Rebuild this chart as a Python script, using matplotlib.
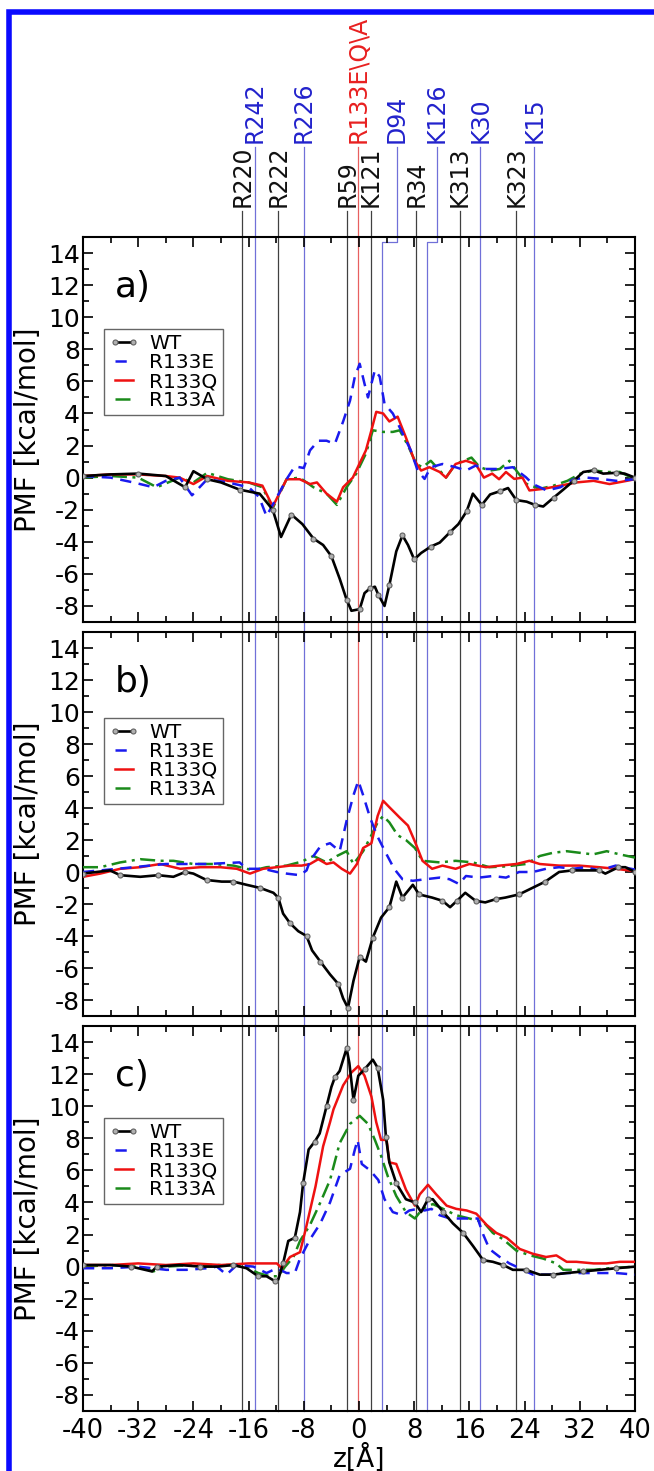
import numpy as np
import matplotlib
matplotlib.use("Agg")
import matplotlib.pyplot as plt
from matplotlib.lines import Line2D
from matplotlib.transforms import blended_transform_factory

plt.rcParams['font.family'] = ['DejaVu Sans']
plt.rcParams['axes.unicode_minus'] = False

# ---------------- data ----------------
series_names = ['WT', 'R133E', 'R133Q', 'R133A']
panel_labels = ['a)', 'b)', 'c)']

# residue markers
res_names = ['R220', 'R242', 'R222', 'R226', 'R59', 'R133E\\Q\\A', 'K121', 'D94',
             'R34', 'K126', 'K313', 'K30', 'K323', 'K15']
res_z = [-16.9, -15.1, -11.7, -8.0, -1.7, -0.1, 1.7, 3.3, 8.3, 9.8, 14.6, 17.6, 22.8, 25.4]
res_label_z = [-16.9, -15.1, -11.7, -8.0, -1.7, -0.1, 1.7, 5.45, 8.3, 11.3, 14.6, 17.6, 22.8, 25.4]
res_group = ['k', 'b', 'k', 'b', 'k', 'r', 'k', 'b', 'k', 'b', 'k', 'b', 'k', 'b']

# ---- panel a ----
a_wt_z = [-40, -36, -32, -28, -25.2, -24, -22, -20, -17.3, -14.4, -12.5, -11.3, -9.8, -8.2, -6.6, -5.2,
          -4.0, -2.8, -1.8, -1.1, 0.1, 0.8, 1.6, 2.3, 2.8, 3.7, 4.4, 5.4, 6.3, 7.1, 8.0, 9.0, 10.4,
          11.7, 13.2, 14.4, 15.6, 16.5, 17.8, 19.0, 20.4, 21.6, 22.8, 24.3, 25.5, 26.7, 28.2, 29.6,
          31.1, 32.5, 34.0, 35.4, 37.3, 38.5, 40]
a_wt_v = [0.1, 0.2, 0.25, 0.1, -0.6, 0.4, -0.1, -0.3, -0.75, -1.0, -2.0, -3.7, -2.3, -2.9, -3.8, -4.2,
          -4.9, -6.3, -7.6, -8.3, -8.2, -7.2, -6.9, -6.8, -7.3, -8.0, -6.7, -4.6, -3.6, -4.2, -5.1, -4.7,
          -4.3, -4.05, -3.4, -2.9, -2.1, -1.0, -1.7, -1.05, -0.85, -0.65, -1.4, -1.5, -1.7, -1.8, -1.25,
          -0.75, -0.2, 0.35, 0.45, 0.25, 0.3, 0.25, 0.0]
a_e_z = [-40, -36, -32.7, -29.8, -28, -26, -24.2, -22, -19, -16, -14.5, -13.4, -11.5, -10.5, -9.3, -8.0,
         -7.1, -5.9, -4.7, -3.5, -2.3, -1.3, -0.6, 0.1, 0.8, 1.3, 1.8, 2.3, 3.0, 3.7, 4.9, 6.1, 7.5,
         8.5, 9.5, 10.4, 12.1, 14.0, 15.5, 16.9, 18.3, 20.3, 22.3, 24.2, 25.2, 27.2, 29.2, 31.1, 33.0,
         35.0, 37.3, 40]
a_e_v = [0.1, 0.0, -0.3, -0.6, -0.2, 0.0, -1.1, -0.1, -0.3, -0.6, -1.2, -2.4, -0.9, -0.1, 0.7, 0.6,
         1.7, 2.3, 2.3, 2.1, 3.5, 4.8, 6.3, 7.1, 5.85, 5.0, 5.85, 6.7, 6.3, 4.6, 4.0, 2.95, 1.7, 0.44,
         -0.08, 0.65, 0.85, 0.65, 0.44, 0.75, 0.54, 0.54, 0.65, 0.02, -0.4, -0.8, -0.6, -0.1, 0.0,
         -0.08, -0.2, -0.1]
a_q_z = [-40, -36, -32, -28, -26, -24, -22, -19, -16, -14, -12.5, -10.5, -8.6, -7.1, -6.1, -4.7, -3.2,
         -2.3, -0.9, 1.0, 1.8, 2.5, 3.5, 4.4, 5.6, 6.8, 8.0, 9.0, 10.2, 11.7, 12.6, 14.0, 15.5, 16.9,
         18.1, 19.3, 20.3, 21.3, 22.5, 23.7, 24.7, 26.7, 29.2, 31.5, 34.0, 36.3, 38.2, 40]
a_q_v = [0.1, 0.2, 0.2, 0.1, 0.0, -0.4, 0.1, -0.2, -0.3, -0.5, -1.8, -0.1, -0.1, -0.4, -0.3, -1.0,
         -1.5, -0.6, 0.0, 1.7, 2.95, 4.1, 4.0, 3.5, 3.8, 2.5, 1.1, 0.44, 0.65, 0.35, 0.0, 0.85, 1.05,
         0.85, 0.0, 0.25, -0.1, 0.35, -0.08, 0.0, -0.8, -0.7, -0.5, -0.3, -0.2, -0.4, -0.25, -0.1]
a_a_z = [-40, -36, -32, -29.3, -26, -24, -22, -19, -16, -14, -12.5, -10.5, -8.6, -6.6, -4.7, -3.2, -1.8,
         -0.4, 1.0, 2.0, 3.5, 4.9, 5.9, 7.1, 8.3, 9.2, 10.4, 11.7, 12.6, 14.0, 16.3, 17.5, 19.0, 20.4,
         21.8, 22.8, 24.3, 26.2, 28.2, 30.2, 32.1, 34.0, 35.9, 37.8, 40]
a_a_v = [0.0, 0.1, 0.0, -0.6, 0.0, -0.3, 0.3, -0.1, -0.3, -0.6, -1.9, -0.1, 0.0, -0.6, -1.0, -1.7, -0.6,
         0.25, 1.5, 2.95, 2.85, 2.85, 2.95, 2.0, 0.85, 0.65, 1.05, 0.44, 0.0, 0.85, 1.25, 0.65, 0.44,
         0.54, 1.05, 0.44, -0.4, -0.7, -0.5, -0.2, 0.25, 0.45, 0.35, 0.35, -0.1]

# ---- panel b ----
b_wt_z = [-40, -36.1, -34.6, -31.7, -29.1, -26.9, -25.2, -24.0, -22.1, -19.9, -18.2, -16.3, -14.3, -12.4,
          -11.7, -11.0, -10.0, -8.8, -7.6, -6.8, -5.6, -4.2, -3.0, -2.3, -1.6, -0.8, 0.1, 1.0, 2.0, 3.2,
          4.4, 5.4, 6.3, 7.8, 8.7, 10.6, 12.1, 13.2, 14.2, 15.4, 16.9, 18.3, 19.8, 21.2, 23.2, 25.1,
          27.0, 29.0, 30.9, 32.8, 34.8, 35.7, 37.6, 38.6, 40]
b_wt_v = [-0.1, 0.1, -0.2, -0.3, -0.2, -0.3, 0.0, -0.1, -0.5, -0.6, -0.6, -0.8, -1.0, -1.3, -1.6, -2.6,
          -3.2, -3.7, -4.0, -4.9, -5.6, -6.4, -7.0, -7.9, -8.5, -6.8, -5.3, -5.6, -4.1, -2.85, -2.2, -0.6,
          -1.6, -0.8, -1.4, -1.6, -1.8, -2.2, -1.8, -1.3, -1.8, -1.9, -1.7, -1.6, -1.4, -1.0, -0.6, 0.0,
          0.1, 0.1, 0.1, -0.1, 0.3, 0.3, 0.0]
b_e_z = [-40, -35, -28, -22, -17.3, -16.3, -13.9, -11.9, -10.5, -8.55, -7.6, -7.1, -5.6, -4.2, -2.8,
         -1.8, -0.8, -0.1, 0.6, 1.6, 2.7, 4.0, 5.1, 6.3, 7.8, 9.7, 11.7, 13.1, 14.5, 15.5, 17.4, 19.4,
         21.3, 23.2, 25.2, 27.1, 29.0, 31.0, 32.9, 34.8, 37.2, 40]
b_e_v = [0.0, 0.2, 0.5, 0.5, 0.6, 0.2, 0.2, 0.0, -0.1, -0.2, 0.1, 0.7, 1.6, 1.8, 1.3, 3.2, 4.8, 5.7, 4.8,
         3.4, 2.2, 1.1, 0.2, -0.45, -0.55, -0.45, -0.35, -0.45, -0.75, -0.25, -0.35, -0.25, -0.35, 0.0,
         0.0, 0.2, 0.3, 0.2, 0.3, 0.1, 0.4, 0.15]
b_q_z = [-40, -37.5, -34.6, -31.7, -28.8, -25.9, -23.0, -20.1, -17.7, -15.8, -13.9, -11.9, -10.0, -8.3,
         -7.1, -5.9, -4.7, -3.7, -2.5, -1.3, -0.3, 0.6, 1.8, 2.7, 3.5, 4.4, 5.9, 7.1, 8.1, 9.2, 10.6,
         12.1, 14.0, 16.0, 18.4, 20.4, 22.8, 24.7, 26.2, 29.0, 31.9, 34.8, 37.2, 40]
b_q_v = [-0.3, -0.1, 0.2, 0.3, 0.5, 0.2, 0.3, 0.3, 0.2, -0.1, 0.2, 0.3, 0.4, 0.4, 0.5, 0.8, 0.5, 0.6,
         0.2, -0.1, 0.5, 1.5, 1.8, 3.5, 4.45, 4.05, 3.4, 2.9, 1.9, 0.7, 0.2, 0.4, 0.2, 0.5, 0.3, 0.4,
         0.5, 0.7, 0.5, 0.4, 0.4, 0.3, 0.2, 0.05]
b_a_z = [-40, -37.5, -34.6, -31.7, -28.8, -26.9, -24.0, -21.1, -18.2, -15.3, -13.4, -10.5, -8.3, -6.6,
         -4.7, -3.2, -1.8, -0.8, 0.6, 1.8, 2.7, 3.5, 4.4, 5.6, 6.8, 8.1, 9.2, 11.7, 14, 16.5, 18.9,
         21.3, 24.2, 26.2, 28.1, 30.1, 32.0, 33.9, 35.9, 37.8, 40]
b_a_v = [0.3, 0.3, 0.6, 0.8, 0.7, 0.7, 0.5, 0.5, 0.4, 0.1, 0.3, 0.4, 0.65, 1.0, 0.6, 1.0, 1.3, 0.5, 1.3,
         2.3, 3.1, 3.5, 3.1, 2.3, 2.0, 1.5, 0.7, 0.6, 0.7, 0.6, 0.3, 0.35, 0.5, 1.0, 1.2, 1.3, 1.2, 1.1,
         1.3, 1.1, 0.9]

# ---- panel c ----
c_wt_z = [-40, -36, -33, -30.0, -29.3, -26, -23.0, -20.5, -18.2, -16.3, -14.6, -13.4, -12.2, -11.7,
          -11.0, -10.25, -9.3, -8.55, -8.1, -7.3, -6.4, -5.7, -4.7, -4.0, -3.5, -2.8, -1.8, -1.4, -0.8,
          -0.1, 0.8, 2.0, 2.7, 3.5, 3.9, 4.4, 5.4, 6.8, 8.1, 9.0, 10.0, 10.7, 12.2, 13.6, 15.1, 16.5,
          18.0, 19.4, 20.9, 22.3, 24.2, 26.2, 28.1, 30.1, 32.5, 34.9, 37.3, 40]
c_wt_v = [0.1, 0.1, 0.0, -0.3, 0.0, 0.1, 0.0, 0.0, 0.1, -0.1, -0.6, -0.6, -0.9, -0.8, 0.2, 1.6, 1.8,
          3.4, 5.2, 7.3, 7.8, 8.3, 10.0, 11.2, 11.8, 12.2, 13.6, 12.7, 10.4, 11.9, 12.3, 12.9, 12.4,
          10.4, 8.1, 6.5, 5.2, 4.2, 4.0, 3.4, 4.2, 4.2, 3.4, 2.7, 2.1, 1.3, 0.4, 0.3, 0.1, -0.2, -0.2,
          -0.5, -0.5, -0.4, -0.3, -0.2, -0.1, 0.0]
c_e_z = [-40, -36, -32, -27.9, -25.0, -22, -20.6, -19.2, -17.7, -15.3, -13.4, -11.9, -10.5, -9.3, -8.55,
         -7.1, -5.6, -4.2, -2.8, -1.3, -0.6, -0.2, 0.4, 1.6, 2.8, 3.7, 4.9, 6.3, 7.3, 8.5, 9.5, 10.5,
         11.7, 13.2, 14.6, 16.0, 17.2, 18.0, 18.9, 20.4, 21.8, 23.3, 25.2, 27.6, 30.1, 32.5, 34.9, 37.3, 40]
c_e_v = [-0.1, -0.1, 0.0, -0.2, -0.2, -0.1, 0.0, -0.5, 0.1, 0.0, -0.4, -0.1, -0.4, -0.4, 0.5, 1.7, 2.7,
         4.0, 5.7, 6.1, 7.3, 7.9, 6.4, 6.0, 5.4, 4.2, 3.4, 3.2, 3.5, 3.6, 3.5, 3.6, 3.2, 3.0, 3.0, 3.0,
         3.0, 2.0, 1.1, 0.6, 0.2, -0.1, -0.5, -0.5, -0.4, -0.4, -0.4, -0.4, -0.5]
c_q_z = [-40, -36, -32, -28, -24, -20, -16, -14.3, -11.9, -11.2, -10.0, -8.55, -7.8, -7.1, -6.3, -5.2,
         -4.2, -3.7, -2.3, -1.1, -0.1, 0.8, 1.8, 2.5, 3.2, 4.0, 4.4, 5.4, 6.8, 8.1, 8.8, 10.0, 11.2,
         12.7, 14.1, 15.6, 17.0, 18.5, 19.9, 21.4, 23.3, 25.2, 27.1, 28.6, 30.1, 31.5, 34.0, 35.9, 37.8, 40]
c_q_v = [0.1, 0.1, 0.2, 0.1, 0.2, 0.1, 0.2, 0.2, 0.2, -0.1, 0.6, 0.9, 2.2, 3.5, 5.0, 7.5, 9.0, 9.8,
         11.3, 12.1, 12.5, 11.9, 10.6, 9.0, 7.9, 7.9, 6.5, 6.4, 4.8, 3.8, 4.5, 5.1, 4.5, 3.8, 3.6, 3.5,
         3.3, 2.6, 2.1, 1.8, 1.1, 0.8, 0.6, 0.7, 0.3, 0.3, 0.2, 0.2, 0.3, 0.3]
c_a_z = [-40, -36, -32, -29.8, -28, -24, -20, -18.2, -16, -14.6, -12.9, -11.7, -10.7, -9.5, -8.55, -7.1,
         -5.6, -4.2, -2.8, -1.3, 0.1, 1.3, 2.3, 3.2, 4.2, 5.4, 6.8, 8.1, 9.2, 10.7, 12.2, 14.1, 16.0,
         18.0, 19.4, 20.9, 22.8, 24.8, 26.7, 28.6, 29.6, 31.5, 34.0, 36.3, 40]
c_a_v = [0.0, 0.1, 0.0, -0.3, 0.0, 0.1, 0.1, 0.1, -0.1, -0.4, -0.6, -0.6, 0.0, 0.6, 1.6, 2.6, 4.0, 5.4,
         7.7, 8.9, 9.4, 8.9, 7.9, 6.9, 5.6, 4.4, 3.4, 3.0, 3.6, 3.9, 3.6, 3.2, 3.0, 2.8, 2.1, 1.7, 1.0,
         0.7, 0.5, 0.2, -0.2, -0.2, -0.2, -0.1, 0.0]

panels = [
    [(a_wt_z, a_wt_v), (a_e_z, a_e_v), (a_q_z, a_q_v), (a_a_z, a_a_v)],
    [(b_wt_z, b_wt_v), (b_e_z, b_e_v), (b_q_z, b_q_v), (b_a_z, b_a_v)],
    [(c_wt_z, c_wt_v), (c_e_z, c_e_v), (c_q_z, c_q_v), (c_a_z, c_a_v)],
]

# ---------------- styling ----------------
W, H = 654.0, 1471.0
fig = plt.figure(figsize=(W / 100, H / 100), dpi=100)


def fy(px):
    return 1 - px / H


styles = [
    dict(color='black', lw=1.9, ls='-', marker='o', ms=3.6, mfc='#b0b0b0', mec='#606060', mew=0.8),
    dict(color='#1a1aee', lw=1.8, ls=(0, (4.5, 3))),
    dict(color='#ee1111', lw=1.8, ls='-'),
    dict(color='#1a8a1a', lw=1.8, ls=(0, (6, 2.2, 1.2, 2.2))),
]

axes_px = [(237, 622), (632, 1016), (1026, 1411)]
L, R = 83, 635
legend_top = [0.761, 0.777, 0.761]
axs = []
for i, (top, bot) in enumerate(axes_px):
    ax = fig.add_axes([L / W, fy(bot), (R - L) / W, (bot - top) / H])
    ax.set_facecolor('none')
    axs.append(ax)
    for j, (zz, vv) in enumerate(panels[i]):
        st = dict(styles[j])
        if j == 0:
            ax.plot(zz, vv, markevery=2, zorder=5, **st)
        else:
            ax.plot(zz, vv, zorder=4 - j * 0.1, **st)
    ax.set_xlim(-40, 40)
    ax.set_ylim(-9, 15)
    ax.set_xticks(np.arange(-40, 41, 8))
    ax.set_xticks(np.arange(-40, 41, 4), minor=True)
    ax.set_yticks(np.arange(-8, 15, 2))
    ax.set_yticks(np.arange(-9, 16, 1), minor=True)
    ax.tick_params(which='both', direction='in', top=True, right=True, width=1.2)
    ax.tick_params(which='major', length=7)
    ax.tick_params(which='minor', length=4)
    ax.tick_params(axis='y', labelsize=18, pad=2)
    ax.tick_params(axis='x', labelsize=18.5, pad=5)
    for sp in ax.spines.values():
        sp.set_linewidth(1.5)
    if i < 2:
        ax.tick_params(axis='x', labelbottom=False)
    ax.set_ylabel('PMF [kcal/mol]', fontsize=20)
    ax.yaxis.set_label_coords(-0.075, 0.5)
    ax.text(0.058, 0.843, panel_labels[i], transform=ax.transAxes, fontsize=26,
            ha='left', va='baseline')
    handles = []
    for j in range(4):
        st = dict(styles[j])
        handles.append(Line2D([], [], **st))
    leg = ax.legend(handles, series_names, loc='upper left', bbox_to_anchor=(0.038, legend_top[i]),
                    borderaxespad=0, fontsize=14.5, labelspacing=0.0, handlelength=1.5,
                    handletextpad=0.5, borderpad=0.25, numpoints=2, fancybox=False,
                    framealpha=1, edgecolor='#666666')
    leg.get_frame().set_linewidth(1.0)

axs[2].set_xlabel('z[\u00c5]', fontsize=19, labelpad=0)

# residue reference lines spanning all panels
trans = blended_transform_factory(axs[2].transData, fig.transFigure)
line_col = {'k': '#404040', 'b': '#7070d8', 'r': '#e86060'}
text_col = {'k': '#111111', 'b': '#2222cc', 'r': '#e82020'}
for name, z, lz, g in zip(res_names, res_z, res_label_z, res_group):
    y_lab = 207 if g == 'k' else 143
    y_start = y_lab + 4
    if lz != z:
        xs = [lz, lz, z, z]
        ys = [fy(y_start), fy(242), fy(242), fy(1411)]
    else:
        xs = [z, z]
        ys = [fy(y_start), fy(1411)]
    fig.add_artist(Line2D(xs, ys, transform=trans, color=line_col[g], lw=0.9, zorder=-1))
    fig.text(lz, fy(y_lab), name, transform=trans, rotation=90, ha='center', va='bottom',
             fontsize=17, color=text_col[g])

# blue outer frame (open at right and bottom)
fig.add_artist(Line2D([9.3 / W, 9.3 / W, 1.0], [0.0, fy(12.2), fy(12.2)], transform=fig.transFigure,
                      color='#0a0aff', lw=4.0, solid_joinstyle='miter', zorder=10))

fig.savefig('out.png', dpi=100)
